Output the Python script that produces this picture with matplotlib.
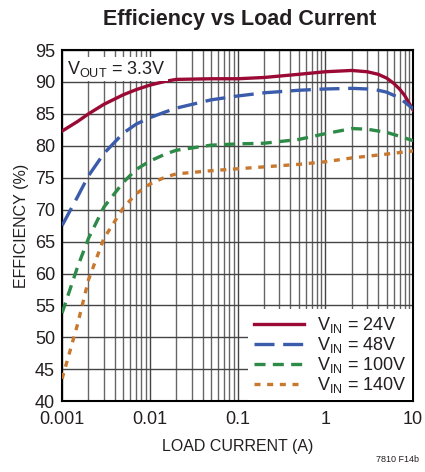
import matplotlib
matplotlib.use('Agg')
from matplotlib import pyplot as plt
from matplotlib.ticker import LogLocator, NullFormatter, FixedLocator

plt.rcParams['font.family'] = ['Liberation Sans', 'DejaVu Sans']
plt.rcParams['mathtext.fontset'] = 'custom'
plt.rcParams['mathtext.rm'] = 'Liberation Sans'
plt.rcParams['mathtext.it'] = 'Liberation Sans'

txt = '#231f20'

# load current (A)
i_24 = [0.001, 0.0015, 0.002, 0.003, 0.005, 0.007, 0.01, 0.015, 0.02, 0.05, 0.1, 0.2, 0.5, 1, 2, 3, 4, 5, 6, 7, 8, 10]
eff_24 = [82.3, 83.8, 85.0, 86.5, 88.0, 88.8, 89.5, 90.1, 90.4, 90.5, 90.5, 90.7, 91.2, 91.6, 91.8, 91.6, 91.2, 90.6, 89.8, 88.9, 87.9, 85.6]

i_48 = [0.001, 0.0015, 0.002, 0.003, 0.005, 0.007, 0.01, 0.015, 0.02, 0.05, 0.1, 0.2, 0.5, 1, 2, 3, 4, 5, 7, 10]
eff_48 = [67.5, 72.0, 75.3, 78.8, 82.0, 83.4, 84.4, 85.3, 85.9, 87.2, 87.8, 88.3, 88.7, 88.9, 89.0, 88.9, 88.7, 88.4, 87.5, 85.8]

i_100 = [0.001, 0.0015, 0.002, 0.003, 0.005, 0.007, 0.01, 0.015, 0.02, 0.05, 0.1, 0.2, 0.5, 1, 2, 3, 5, 7, 10]
eff_100 = [53.8, 61.0, 65.5, 70.4, 74.3, 76.3, 77.6, 78.7, 79.3, 80.1, 80.3, 80.4, 81.0, 81.9, 82.7, 82.6, 82.1, 81.5, 80.8]

i_140 = [0.001, 0.0015, 0.002, 0.003, 0.005, 0.007, 0.01, 0.015, 0.02, 0.05, 0.1, 0.2, 0.5, 1, 2, 5, 10]
eff_140 = [43.5, 52.0, 59.0, 65.5, 70.3, 72.5, 74.0, 75.1, 75.6, 76.1, 76.4, 76.7, 77.1, 77.5, 78.1, 78.7, 79.2]

labels = [r'V$_{\mathrm{IN}}$ = 24V', r'V$_{\mathrm{IN}}$ = 48V',
          r'V$_{\mathrm{IN}}$ = 100V', r'V$_{\mathrm{IN}}$ = 140V']
xticks = [0.001, 0.01, 0.1, 1, 10]
xticklabels = ['0.001', '0.01', '0.1', '1', '10']
yticks = list(range(40, 100, 5))

fig = plt.figure(figsize=(4.25, 4.72), dpi=100)
ax = fig.add_axes([0.146, 0.150, 0.826, 0.744])

ax.plot(i_24, eff_24, color='#9b0a35', lw=2.4, label=labels[0], zorder=3)
ax.plot(i_48, eff_48, color='#3b5cab', lw=2.4, dashes=(6, 2.6), label=labels[1], zorder=3)
ax.plot(i_100, eff_100, color='#2e8b47', lw=2.4, dashes=(3.3, 2.2), label=labels[2], zorder=3)
ax.plot(i_140, eff_140, color='#c8782f', lw=2.4, dashes=(1.8, 2.0), label=labels[3], zorder=3)

ax.set_xscale('log')
ax.set_xlim(0.001, 10)
ax.set_ylim(40, 95)
ax.xaxis.set_major_locator(FixedLocator(xticks))
ax.set_xticklabels(xticklabels)
ax.xaxis.set_minor_locator(LogLocator(base=10, subs=range(2, 10)))
ax.xaxis.set_minor_formatter(NullFormatter())
ax.set_yticks(yticks)

ax.grid(True, which='major', color='#444444', lw=1.0)
ax.grid(True, which='minor', axis='x', color='#666666', lw=1.0)
ax.tick_params(which='both', length=0, labelsize=13, colors=txt)
ax.tick_params(axis='y', pad=5)
ax.tick_params(axis='x', pad=7)
for s in ax.spines.values():
    s.set_color('black')
    s.set_linewidth(1.5)
ax.set_axisbelow(True)

ax.set_xlabel('LOAD CURRENT (A)', fontsize=11.5, color=txt, labelpad=8)
ax.set_ylabel('EFFICIENCY (%)', fontsize=11.5, color=txt, labelpad=4)

ax.text(0.013, 0.975, r'V$_{\mathrm{OUT}}$ = 3.3V', transform=ax.transAxes,
        fontsize=13, color=txt, va='top', ha='left', zorder=4,
        bbox=dict(facecolor='white', edgecolor='none', pad=1.5))

leg = ax.legend(loc='lower right', fontsize=13, frameon=True, fancybox=False,
                borderaxespad=0.05, handlelength=2.8, handletextpad=0.7,
                labelspacing=0.0, borderpad=0.3)
leg.get_frame().set_edgecolor('none')
leg.get_frame().set_facecolor('white')
leg.get_frame().set_alpha(1)
for t in leg.get_texts():
    t.set_color(txt)

fig.text(0.565, 0.958, 'Efficiency vs Load Current', ha='center', va='center',
         fontsize=15.5, fontweight='bold', color=txt)
fig.text(0.985, 0.018, '7810 F14b', ha='right', va='bottom', fontsize=6.5, color=txt)

fig.savefig('out.png', dpi=100)
